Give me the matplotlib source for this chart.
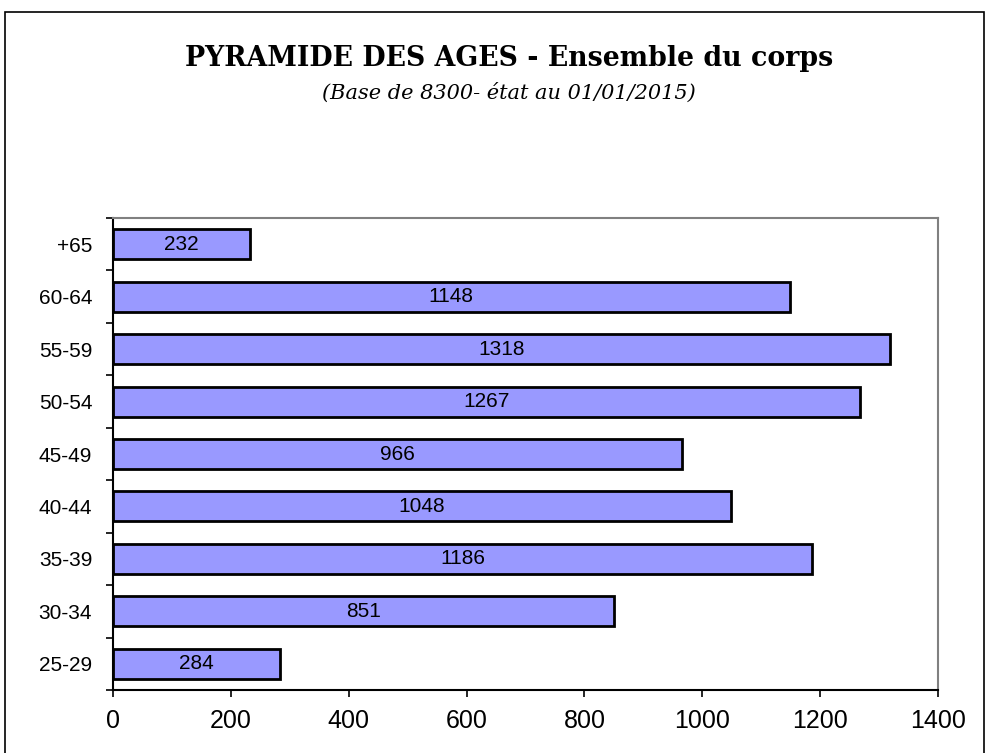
import matplotlib.pyplot as plt
from matplotlib.patches import Rectangle
import numpy as np

# age groups, bottom to top
age_groups = ['25-29', '30-34', '35-39', '40-44', '45-49', '50-54', '55-59', '60-64', '+65']
headcount = [284, 851, 1186, 1048, 966, 1267, 1318, 1148, 232]
x_ticks = [0, 200, 400, 600, 800, 1000, 1200, 1400]

fig = plt.figure(figsize=(9.89, 7.53), dpi=100)

# outer frame around the chart
fig.patches.append(Rectangle((5 / 989, -0.02), 979 / 989, 1.02 - 12 / 753,
                             transform=fig.transFigure, fill=False,
                             edgecolor='black', linewidth=1.2))

ax = fig.add_axes([113 / 989, 63 / 753, 825 / 989, 472 / 753])

pos = np.arange(len(age_groups))
bars = ax.barh(pos, headcount, height=0.57, color='#9999FF',
               edgecolor='black', linewidth=2)

for b, v in zip(bars, headcount):
    ax.text(v / 2, b.get_y() + b.get_height() / 2, str(v),
            ha='center', va='center', fontsize=15, family='Liberation Sans')

ax.set_xlim(0, 1400)
ax.set_ylim(-0.5, len(age_groups) - 0.5)
ax.set_xticks(x_ticks)
ax.set_xticklabels([str(t) for t in x_ticks], fontsize=18, family='Liberation Sans')
ax.tick_params(axis='x', direction='out', length=5, width=1.2, pad=9)

ax.set_yticks(pos)
ax.set_yticklabels(age_groups, fontsize=15, family='Liberation Sans')
ax.tick_params(axis='y', which='major', length=0, pad=15)
ax.set_yticks(np.arange(-0.5, len(age_groups)), minor=True)
ax.tick_params(axis='y', which='minor', direction='out', length=5, width=1.2)

for s in ['top', 'right']:
    ax.spines[s].set_color('#808080')
    ax.spines[s].set_linewidth(1.5)
for s in ['left', 'bottom']:
    ax.spines[s].set_color('black')
    ax.spines[s].set_linewidth(1.5)

fig.text(0.515, 0.922, 'PYRAMIDE DES AGES - Ensemble du corps', ha='center', va='center',
         fontsize=19.3, fontweight='bold', family='DejaVu Serif')
fig.text(0.515, 0.877, '(Base de 8300- état au 01/01/2015)', ha='center', va='center',
         fontsize=15, style='italic', family='DejaVu Serif')

plt.savefig('out.png', dpi=100)
